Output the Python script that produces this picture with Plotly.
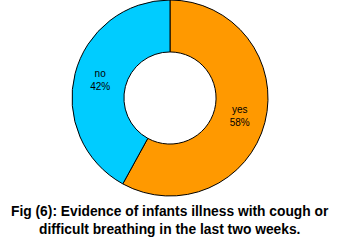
import plotly.graph_objects as go

labels = ["yes", "no"]
values = [58, 42]
colors = ["#FF9900", "#00CCFF"]
title_lines = ["Fig (6): Evidence of infants illness with cough or",
               "difficult breathing in the last two weeks."]

W, H = 339, 242
fig = go.Figure(go.Pie(
    labels=labels, values=values, hole=0.47, sort=False, direction="clockwise",
    rotation=0,
    marker=dict(colors=colors, line=dict(color="black", width=1)),
    texttemplate="%{label}<br>%{percent:.0%}", textposition="inside",
    insidetextorientation="horizontal",
    textfont=dict(family="Liberation Sans, Arial", size=10, color="black"),
    domain=dict(x=[72/W, 268/W], y=[1-196/H, 1]),
    showlegend=False, hoverinfo="skip",
))
for i, (t, y) in enumerate(zip(title_lines, [211, 229])):
    fig.add_annotation(text="<b>"+t+"</b>", x=0.5, xref="paper", y=1-y/H, yref="paper",
                       xanchor="center", yanchor="middle", showarrow=False,
                       font=dict(family="Liberation Sans, Arial", size=13.8, color="black"))
fig.update_layout(width=W, height=H, margin=dict(l=0, r=0, t=0, b=0),
                  paper_bgcolor="white", plot_bgcolor="white")
fig.write_html("out.html")
